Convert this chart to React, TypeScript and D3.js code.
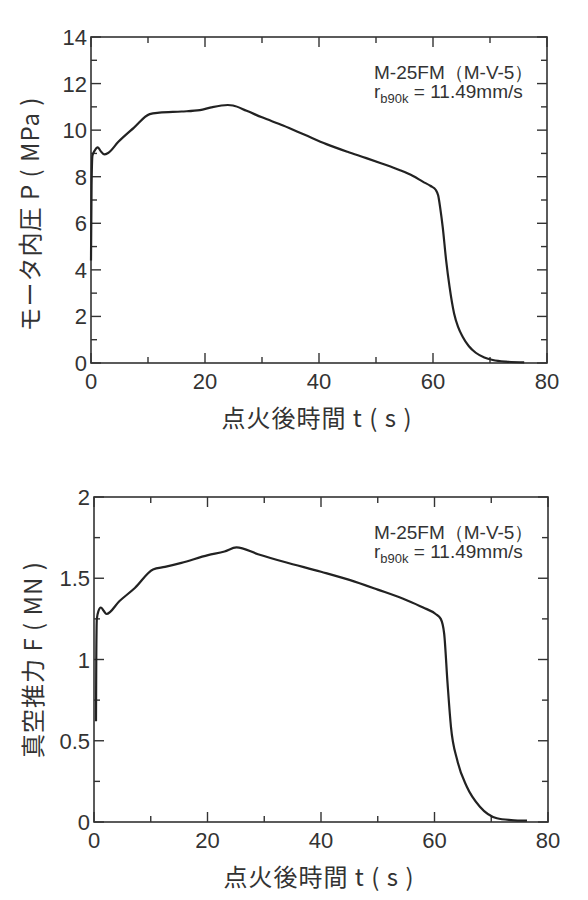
import React, { useEffect, useRef } from "react";
import * as d3 from "d3";

// time (s) and motor chamber pressure (MPa)
const timeP = [0, 0.1, 0.25, 0.6, 1.2, 1.7, 2.3, 3, 4.8, 7.5, 10.3, 12, 15.9, 19.1, 21.1, 24, 24.9, 27.3, 30, 33.7, 37.5, 41.3, 45, 48.3, 51, 54.1, 56.5, 58.2, 59.6, 60.5, 60.9, 61.3, 61.7, 62.3, 62.9, 63.7, 64.4, 65.2, 66.3, 67.5, 69, 70.5, 72.8, 76];
const pressure = [4.4, 7.6, 8.9, 9.1, 9.26, 9.1, 8.96, 9.02, 9.5, 10.1, 10.69, 10.75, 10.8, 10.86, 10.98, 11.08, 11.06, 10.83, 10.55, 10.2, 9.8, 9.4, 9.07, 8.8, 8.57, 8.29, 8.03, 7.79, 7.6, 7.43, 7.2, 6.6, 5.85, 4.42, 3.28, 2.13, 1.55, 1.13, 0.72, 0.44, 0.24, 0.13, 0.06, 0.03];

// time (s) and vacuum thrust (MN)
const timeF = [0.35, 0.4, 0.5, 0.8, 1.2, 1.7, 2.2, 4.5, 7.2, 10.4, 12.5, 15.4, 20.1, 23, 25.1, 28.9, 33.6, 40, 45, 50, 55.1, 58, 60.2, 61.1, 61.7, 62.3, 62.9, 64, 65.7, 68, 71, 73.5, 76.3];
const thrust = [0.62, 1.0, 1.25, 1.3, 1.32, 1.3, 1.28, 1.36, 1.44, 1.554, 1.57, 1.595, 1.642, 1.665, 1.69, 1.648, 1.6, 1.54, 1.49, 1.43, 1.365, 1.32, 1.28, 1.25, 1.16, 0.853, 0.586, 0.381, 0.217, 0.094, 0.023, 0.012, 0.008];

const xTicks = [0, 20, 40, 60, 80];
const xMinor = [10, 30, 50, 70];
const pTicks = [0, 2, 4, 6, 8, 10, 12, 14];
const pMinor = [1, 3, 5, 7, 9, 11, 13];
const fTicks = [0, 0.5, 1, 1.5, 2];
const fMinor = [0.25, 0.75, 1.25, 1.75];

const xTitle = "点火後時間 t ( s )";
const motorName = "M-25FM（M-V-5）";

const INK = "#333";
const LATIN = "'Liberation Sans', Arial, sans-serif";
const CJK = "'Noto Sans CJK JP', 'Liberation Sans', sans-serif";

const Panel = ({ svgRef, top, left, right, bottom, t, v, yMax, yTicks, yMinor, yTitle, yTitleShift }) => {
  useEffect(() => {
    const g = d3.select(svgRef.current).append("g");

    const x = d3.scaleLinear().domain([0, 80]).range([left, right]);
    const y = d3.scaleLinear().domain([0, yMax]).range([bottom, top]);

    // frame
    g.append("rect")
      .attr("x", left)
      .attr("y", top)
      .attr("width", right - left)
      .attr("height", bottom - top)
      .attr("fill", "none")
      .attr("stroke", INK)
      .attr("stroke-width", 1.6);

    // inward ticks on all four sides
    const tk = (vals, len) => {
      vals.forEach((d) => {
        g.append("line").attr("x1", x(d)).attr("x2", x(d)).attr("y1", bottom).attr("y2", bottom - len)
          .attr("stroke", INK).attr("stroke-width", 1.4);
        g.append("line").attr("x1", x(d)).attr("x2", x(d)).attr("y1", top).attr("y2", top + len)
          .attr("stroke", INK).attr("stroke-width", 1.4);
      });
    };
    tk(xTicks, 10);
    tk(xMinor, 6);
    const tky = (vals, len) => {
      vals.forEach((d) => {
        g.append("line").attr("y1", y(d)).attr("y2", y(d)).attr("x1", left).attr("x2", left + len)
          .attr("stroke", INK).attr("stroke-width", 1.4);
        g.append("line").attr("y1", y(d)).attr("y2", y(d)).attr("x1", right).attr("x2", right - len)
          .attr("stroke", INK).attr("stroke-width", 1.4);
      });
    };
    tky(yTicks, 10);
    tky(yMinor, 6);

    // tick labels
    g.selectAll(".xl")
      .data(xTicks)
      .join("text")
      .attr("x", (d) => x(d))
      .attr("y", bottom + 26)
      .attr("text-anchor", "middle")
      .attr("font-family", LATIN)
      .attr("font-size", 22)
      .attr("fill", INK)
      .text((d) => d);

    g.selectAll(".yl")
      .data(yTicks)
      .join("text")
      .attr("x", left - 4)
      .attr("y", (d) => y(d) + 8)
      .attr("text-anchor", "end")
      .attr("font-family", LATIN)
      .attr("font-size", 22)
      .attr("fill", INK)
      .text((d) => d);

    // axis titles
    g.append("text")
      .attr("x", (left + right) / 2 - 2)
      .attr("y", bottom + 64)
      .attr("text-anchor", "middle")
      .attr("font-family", CJK)
      .attr("font-size", 24)
      .attr("letter-spacing", 1)
      .attr("fill", INK)
      .text(xTitle);

    g.append("text")
      .attr("transform", `translate(${left - 52},${(top + bottom) / 2 + yTitleShift}) rotate(-90)`)
      .attr("text-anchor", "middle")
      .attr("font-family", CJK)
      .attr("font-size", 24)
      .attr("letter-spacing", 1)
      .attr("fill", INK)
      .text(yTitle);

    // annotation
    g.append("text")
      .attr("x", 374)
      .attr("y", top + 42)
      .attr("font-family", LATIN)
      .attr("font-size", 19)
      .attr("fill", INK)
      .text(motorName);

    const r = g.append("text")
      .attr("x", 374)
      .attr("y", top + 61)
      .attr("font-family", LATIN)
      .attr("font-size", 19)
      .attr("fill", INK);
    r.append("tspan").text("r");
    r.append("tspan").attr("font-size", 13).attr("dy", 5).text("b90k");
    r.append("tspan").attr("dy", -5).text(" = 11.49mm/s");

    // curve
    const line = d3
      .line()
      .x((d, i) => x(t[i]))
      .y((d) => y(d))
      .curve(d3.curveMonotoneX);

    g.append("path")
      .attr("d", line(v))
      .attr("fill", "none")
      .attr("stroke", "#222")
      .attr("stroke-width", 2.2)
      .attr("stroke-linejoin", "round");

    return () => {
      g.remove();
    };
  }, []);
  return null;
};

export default function App() {
  const svgRef = useRef(null);
  return (
    <svg
      ref={svgRef}
      width={588}
      height={900}
      style={{ position: "absolute", left: 0, top: 0, background: "#fff" }}
    >
      <Panel
        svgRef={svgRef}
        top={37}
        bottom={363}
        left={91}
        right={547}
        t={timeP}
        v={pressure}
        yMax={14}
        yTicks={pTicks}
        yMinor={pMinor}
        yTitle="モータ内圧 P ( MPa )"
        yTitleShift={14}
      />
      <Panel
        svgRef={svgRef}
        top={497}
        bottom={822}
        left={94}
        right={548}
        t={timeF}
        v={thrust}
        yMax={2}
        yTicks={fTicks}
        yMinor={fMinor}
        yTitle="真空推力 F ( MN )"
        yTitleShift={0}
      />
    </svg>
  );
}
